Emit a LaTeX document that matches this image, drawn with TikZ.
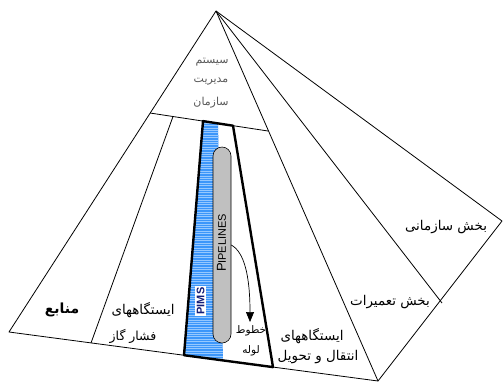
\documentclass[tikz,border=0pt]{standalone}
\usepackage{fontspec}
\setmainfont{Liberation Sans}
\newfontfamily\fa[Script=Arabic]{DejaVu Sans}
\TeXXeTstate=1
\usetikzlibrary{arrows.meta}
\definecolor{stripblue}{RGB}{60,150,250}
\definecolor{stripline}{RGB}{150,200,255}
\definecolor{pillgray}{RGB}{192,192,192}
\definecolor{pimsblue}{RGB}{20,30,120}
\begin{document}
\begin{tikzpicture}[x=1bp,y=-1bp,line join=round,
  edge/.style={draw=black,line width=0.8bp},
  thickedge/.style={draw=black,line width=2.4bp},
  fatxt/.style={font=\fa\fontsize{13.5}{14}\selectfont,inner sep=0pt,text=black},
  smalltxt/.style={font=\fa\fontsize{10.5}{12}\selectfont,inner sep=0pt,text=black},
  toptxt/.style={font=\fa\fontsize{11}{12}\selectfont,inner sep=0pt,text=black!65},
  pillbox/.style={draw=black,line width=0.6bp,fill=pillgray,rounded corners=9bp,
    minimum width=18bp,minimum height=196bp,inner sep=0pt},
  pimsbox/.style={fill=white,inner sep=1.5bp,rotate=90,text=pimsblue,
    font=\bfseries\fontsize{11}{11}\selectfont},
  pipetxt/.style={inner sep=0pt,rotate=90,font=\fontsize{11}{11}\selectfont}
]
\useasboundingbox (0,0) rectangle (503,383);
\fill[white] (0,0) rectangle (503,383);
% main points
\coordinate (A) at (216,11);
\coordinate (L) at (9,332);
\coordinate (R) at (378,381);
\coordinate (E) at (502,221);
\coordinate (M) at (442,303);
\coordinate (T1) at (150,113);
\coordinate (T2) at (268,131);
\coordinate (S1) at (173,116.5);
\coordinate (S2) at (91,343);
% blue strip
\begin{scope}
  \clip (203,121.1) -- (218,123.4) -- (223,360.4) -- (184,355.2) -- cycle;
  \fill[stripblue] (180,115) rectangle (226,365);
  \foreach \yy in {116,118.4,...,364} \draw[stripline,line width=0.7bp] (180,\yy) -- (226,\yy);
\end{scope}
% pyramid outline and divisions
\draw[edge] (A) -- (L) -- (R) -- (E) -- cycle;
\draw[edge] (A) -- (R);
\draw[edge] (A) -- (M);
\draw[edge] (T1) -- (T2);
\draw[edge] (S1) -- (S2);
% pipeline trapezoid
\draw[thickedge] (203,121.1) -- (233,125.7) -- (273,367.1) -- (184,355.2) -- cycle;
% pill
\node[pillbox] (pipe) at (222,245) {};
\node[pipetxt] (pipelbl) at (221.5,243) {{\fontsize{13}{13}\selectfont P}IPELINES};
\node[pimsbox] (pims) at (200.5,301) {PIMS};
\coordinate (tip) at (250,322);
\draw[line width=0.7bp,-{Triangle[length=10bp,width=8bp]}] (pipe.east) .. controls (244,252) and (250,275) .. (tip);
% texts
\node[toptxt] (t1) at (212,62) {\beginR سیستم\endR};
\node[toptxt] (t2) at (211,82) {\beginR مدیریت\endR};
\node[toptxt] (t3) at (211,103) {\beginR سازمان\endR};
\node[fatxt,font=\fa\bfseries\fontsize{14}{15}\selectfont] (t4) at (62,310) {\beginR منابع\endR};
\node[fatxt] (t5) at (143,310) {\beginR ایستگاههای\endR};
\node[fatxt,font=\fa\fontsize{12.5}{13}\selectfont] (t6) at (133,336) {\beginR فشار گاز\endR};
\node[smalltxt] (t7) at (251,331) {\beginR خطوط\endR};
\node[smalltxt] (t8) at (251,351) {\beginR لوله\endR};
\node[fatxt] (t9) at (312,336) {\beginR ایستگاههای\endR};
\node[fatxt] (t10) at (318,357) {\beginR انتقال و تحویل\endR};
\node[fatxt] (t11) at (390,302) {\beginR بخش تعمیرات\endR};
\node[fatxt] (t12) at (446,227) {\beginR بخش سازمانی\endR};
\end{tikzpicture}
\end{document}
